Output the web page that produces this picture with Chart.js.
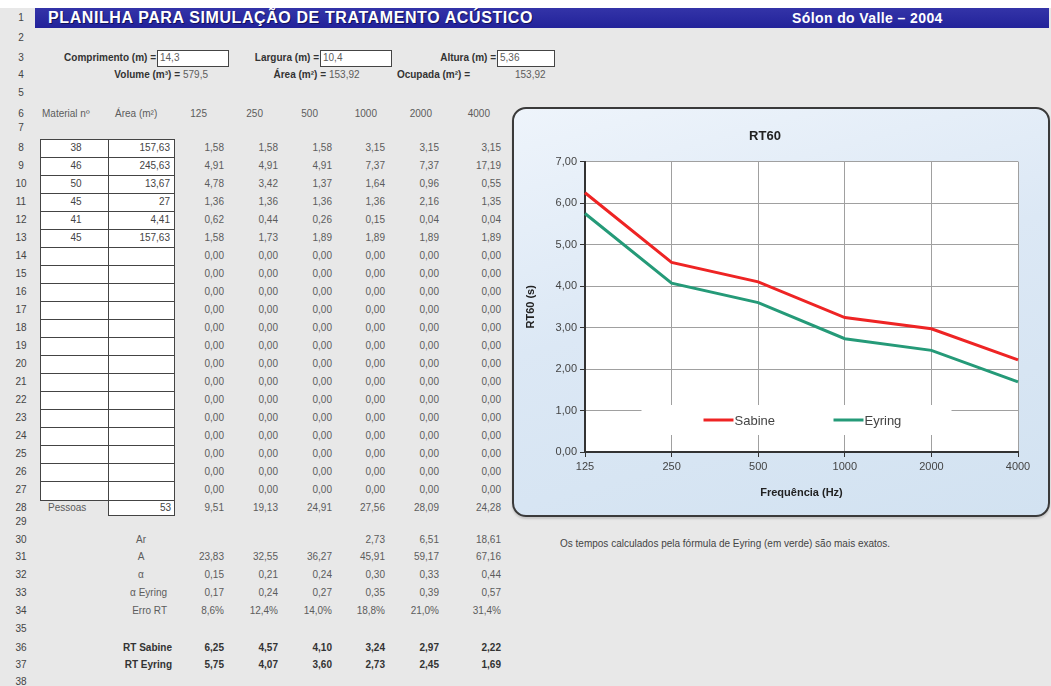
<!DOCTYPE html>
<html lang="pt">
<head>
<meta charset="utf-8">
<script src="https://cdn.jsdelivr.net/npm/chart.js@4.4.0/dist/chart.umd.min.js"></script>
<style>
  html, body { margin: 0; padding: 0; }
  body {
    width: 1051px; height: 686px; overflow: hidden; position: relative;
    background: #e8e8e8;
    font-family: "Liberation Sans", Arial, sans-serif;
    color: #5c5c5c;
  }
  .t { position: absolute; white-space: nowrap; font-size: 10px; line-height: 12px; }
  .b { font-weight: bold; color: #333; }
  .topo { position: absolute; left: 0; top: 0; width: 1051px; height: 8px; background: #fff; }
  .barra {
    position: absolute; left: 35px; top: 8px; width: 1014px; height: 20px;
    background: linear-gradient(#3434a8, #22229a);
  }
  .caixa { position: absolute; background: #fff; border: 1px solid #444; box-sizing: border-box; }
  .linha { position: absolute; background: #444; }
  #moldura {
    position: absolute; left: 512px; top: 107px; width: 538px; height: 410px;
    box-sizing: border-box; border: 2px solid #3a3a3a; border-radius: 14px;
    background: linear-gradient(165deg, #eef4fb 0%, #dce8f5 45%, #d2e2f1 100%);
    box-shadow: 0 2px 2px rgba(0,0,0,0.15);
  }
  #graf { position: absolute; left: 512px; top: 107px; width: 538px; height: 410px; }
</style>
</head>
<body>
<div class="topo"></div>
<div class="barra"></div>
<div id="planilha"></div>
<div id="moldura"></div>
<div id="graf"><canvas id="rt60"></canvas></div>

<script>
// dados do grafico
const frequencias = ["125", "250", "500", "1000", "2000", "4000"];
const rtSabine = [6.25, 4.57, 4.10, 3.24, 2.97, 2.22];
const rtEyring = [5.75, 4.07, 3.60, 2.73, 2.45, 1.69];

// dados da planilha
const materiais = ["38", "46", "50", "45", "41", "45"];
const areas = ["157,63", "245,63", "13,67", "27", "4,41", "157,63"];
const absorcao = [
  [1.58, 1.58, 1.58, 3.15, 3.15, 3.15],
  [4.91, 4.91, 4.91, 7.37, 7.37, 17.19],
  [4.78, 3.42, 1.37, 1.64, 0.96, 0.55],
  [1.36, 1.36, 1.36, 1.36, 2.16, 1.35],
  [0.62, 0.44, 0.26, 0.15, 0.04, 0.04],
  [1.58, 1.73, 1.89, 1.89, 1.89, 1.89],
];
const pessoas = [9.51, 19.13, 24.91, 27.56, 28.09, 24.28];
const ar = [null, null, null, 2.73, 6.51, 18.61];
const absTotal = [23.83, 32.55, 36.27, 45.91, 59.17, 67.16];
const alfa = [0.15, 0.21, 0.24, 0.30, 0.33, 0.44];
const alfaEyring = [0.17, 0.24, 0.27, 0.35, 0.39, 0.57];
const erroRT = ["8,6%", "12,4%", "14,0%", "18,8%", "21,0%", "31,4%"];

// centro vertical de cada linha da planilha (1..38)
const rowY = [18, 38, 58, 75, 93, 114, 128];
for (let r = 8; r <= 28; r++) rowY.push(148 + (r - 8) * 18);
rowY.push(522, 540, 557, 575, 593, 611, 629, 648, 665, 682);

const colRight = [224, 278, 332, 385, 439, 501];
const headRight = [207, 263, 318, 377, 432, 490];

const folha = document.getElementById("planilha");
const fmt = (v) => v.toFixed(2).replace(".", ",");

function txt(x, row, s, align, cls, extra) {
  const d = document.createElement("div");
  d.className = "t" + (cls ? " " + cls : "");
  d.textContent = s;
  const y = typeof row === "number" ? rowY[row - 1] - 6 : row.y;
  d.style.top = y + "px";
  if (align === "right") d.style.right = 1051 - x + "px";
  else if (align === "center") {
    d.style.left = x - 60 + "px";
    d.style.width = "120px";
    d.style.textAlign = "center";
  } else d.style.left = x + "px";
  if (extra) Object.assign(d.style, extra);
  folha.appendChild(d);
  return d;
}
function bloco(cls, x, y, w, h) {
  const d = document.createElement("div");
  d.className = cls;
  Object.assign(d.style, { left: x + "px", top: y + "px", width: w + "px", height: h + "px" });
  folha.appendChild(d);
}

// numeros das linhas
for (let r = 1; r <= 38; r++) txt(21, r, String(r), "center", "", { color: "#444", fontSize: "10px" });

// titulo
txt(48, { y: 10 }, "PLANILHA PARA SIMULAÇÃO DE TRATAMENTO ACÚSTICO", "left", "", {
  color: "#fff", fontWeight: "bold", fontSize: "16px", lineHeight: "16px",
  letterSpacing: "0.6px", textShadow: "1px 1px 0 #11115a",
});
txt(792, { y: 11 }, "Sólon do Valle – 2004", "left", "", {
  color: "#fff", fontWeight: "bold", fontSize: "14px", lineHeight: "14px", letterSpacing: "0.4px",
});

// dimensoes
bloco("caixa", 157, 50, 72, 17);
bloco("caixa", 320, 50, 72, 17);
bloco("caixa", 497, 50, 58, 17);
txt(156, 3, "Comprimento (m) =", "right", "b");
txt(160, 3, "14,3", "left");
txt(319, 3, "Largura (m) =", "right", "b");
txt(323, 3, "10,4", "left");
txt(496, 3, "Altura (m) =", "right", "b");
txt(500, 3, "5,36", "left");
txt(180, 4, "Volume (m³) =", "right", "b");
txt(183, 4, "579,5", "left");
txt(326, 4, "Área (m²) =", "right", "b");
txt(329, 4, "153,92", "left");
txt(470, 4, "Ocupada (m²) =", "right", "b");
txt(515, 4, "153,92", "left");

// cabecalho
txt(42, 6, "Material nº", "left");
txt(115, 6, "Área (m²)", "left");
frequencias.forEach((f, i) => txt(headRight[i], 6, f, "right"));

// tabela de materiais (linhas 8 a 27)
bloco("caixa", 40, 139, 135, 362);
for (let r = 9; r <= 27; r++) bloco("linha", 40, rowY[r - 1] - 9, 135, 1);
bloco("linha", 108, 139, 1, 362);
materiais.forEach((m, i) => {
  txt(76, 8 + i, m, "center", "", { color: "#444" });
  txt(170, 8 + i, areas[i], "right", "", { color: "#444" });
});
for (let r = 8; r <= 27; r++) {
  const vals = absorcao[r - 8] || [0, 0, 0, 0, 0, 0];
  vals.forEach((v, i) => txt(colRight[i], r, fmt(v), "right"));
}

// pessoas
txt(48, 28, "Pessoas", "left");
bloco("caixa", 108, 500, 67, 16);
txt(171, 28, "53", "right", "", { color: "#444" });
pessoas.forEach((v, i) => txt(colRight[i], 28, fmt(v), "right"));

// resultados
txt(141, 30, "Ar", "center");
ar.forEach((v, i) => { if (v !== null) txt(colRight[i], 30, fmt(v), "right"); });
txt(141, 31, "A", "center");
absTotal.forEach((v, i) => txt(colRight[i], 31, fmt(v), "right"));
txt(141, 32, "α", "center");
alfa.forEach((v, i) => txt(colRight[i], 32, fmt(v), "right"));
txt(167, 33, "α Eyring", "right");
alfaEyring.forEach((v, i) => txt(colRight[i], 33, fmt(v), "right"));
txt(167, 34, "Erro RT", "right");
erroRT.forEach((v, i) => txt(colRight[i], 34, v, "right"));
txt(172, 36, "RT Sabine", "right", "b");
rtSabine.forEach((v, i) => txt(colRight[i], 36, fmt(v), "right", "b"));
txt(172, 37, "RT Eyring", "right", "b");
rtEyring.forEach((v, i) => txt(colRight[i], 37, fmt(v), "right", "b"));

txt(560, { y: 538 }, "Os tempos calculados pela fórmula de Eyring (em verde) são mais exatos.", "left", "", {
  color: "#444", fontSize: "10px",
});

// fundo branco da area de plotagem
const fundoPlot = {
  id: "fundoPlot",
  beforeDraw(chart) {
    const { ctx, chartArea: a } = chart;
    ctx.save();
    ctx.fillStyle = "#ffffff";
    ctx.fillRect(a.left, a.top, a.width, a.height);
    ctx.restore();
  },
};

// legenda dentro do grafico, como no Excel
const legendaInterna = {
  id: "legendaInterna",
  afterDraw(chart) {
    const { ctx, chartArea: a } = chart;
    const cx = (a.left + a.right) / 2;
    const cy = a.bottom - 32;
    ctx.save();
    ctx.fillStyle = "#ffffff";
    ctx.fillRect(cx - 160, cy - 15, 310, 30);
    ctx.font = "13px 'Liberation Sans', Arial, sans-serif";
    ctx.textBaseline = "middle";
    chart.data.datasets.forEach((ds, i) => {
      const x0 = cx - 98 + i * 130;
      ctx.strokeStyle = ds.borderColor;
      ctx.lineWidth = 3;
      ctx.beginPath();
      ctx.moveTo(x0, cy);
      ctx.lineTo(x0 + 30, cy);
      ctx.stroke();
      ctx.fillStyle = "#444";
      ctx.fillText(ds.label, x0 + 31, cy + 1);
    });
    ctx.restore();
  },
};

new Chart(document.getElementById("rt60"), {
  type: "line",
  data: {
    labels: frequencias,
    datasets: [
      {
        label: "Sabine",
        data: rtSabine,
        borderColor: "#ee2424",
        borderWidth: 3,
        pointRadius: 0,
        tension: 0,
      },
      {
        label: "Eyring",
        data: rtEyring,
        borderColor: "#259a78",
        borderWidth: 3,
        pointRadius: 0,
        tension: 0,
      },
    ],
  },
  options: {
    responsive: true,
    maintainAspectRatio: false,
    animation: false,
    layout: { padding: { left: 0, right: 32, top: 0, bottom: 0 } },
    plugins: {
      legend: { display: false },
      tooltip: { enabled: false },
      title: {
        display: true,
        text: "RT60",
        color: "#222",
        font: { family: "'Liberation Sans', Arial", size: 13, weight: "bold" },
        padding: { top: 22, bottom: 17 },
      },
    },
    scales: {
      x: {
        offset: false,
        afterFit: (scale) => { scale.height = 65; },
        grid: { color: "#a0a0a0", tickColor: "#333", tickLength: 5 },
        border: { color: "#333", width: 2 },
        ticks: {
          color: "#444",
          maxRotation: 0,
          font: { family: "'Liberation Sans', Arial", size: 11 },
        },
        title: {
          display: true,
          text: "Frequência (Hz)",
          color: "#222",
          font: { family: "'Liberation Sans', Arial", size: 11, weight: "bold" },
          padding: { top: 4, bottom: 17 },
        },
      },
      y: {
        min: 0,
        max: 7,
        afterFit: (scale) => { scale.width = 73; },
        grid: { color: "#a0a0a0", tickColor: "#333", tickLength: 5 },
        border: { color: "#333", width: 2 },
        ticks: {
          stepSize: 1,
          color: "#444",
          font: { family: "'Liberation Sans', Arial", size: 11 },
          callback: (v) => v.toFixed(2).replace(".", ","),
        },
        title: {
          display: true,
          text: "RT60 (s)",
          color: "#222",
          font: { family: "'Liberation Sans', Arial", size: 11, weight: "bold" },
          padding: { top: 12, bottom: 0 },
        },
      },
    },
  },
  plugins: [fundoPlot, legendaInterna],
});
</script>
</body>
</html>
